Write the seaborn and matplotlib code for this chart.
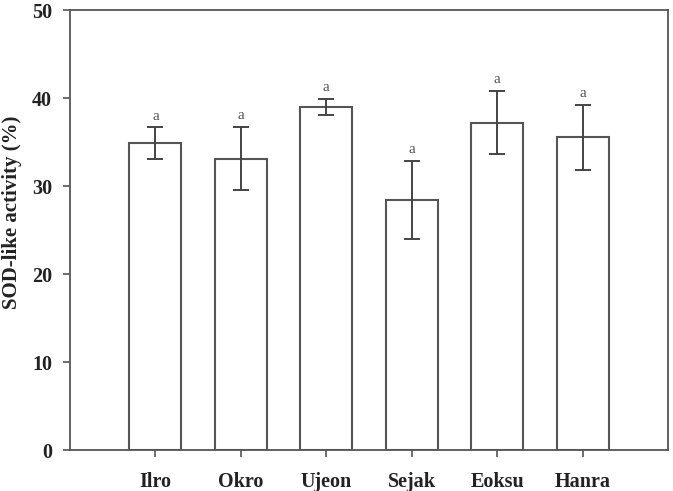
import matplotlib
matplotlib.use("Agg")
import matplotlib.pyplot as plt
import seaborn as sns
import numpy as np

categories = ["Ilro", "Okro", "Ujeon", "Sejak", "Eoksu", "Hanra"]
means = [34.85, 33.1, 38.98, 28.4, 37.2, 35.55]
errors = [1.8, 3.6, 0.9, 4.45, 3.6, 3.7]
letters = ["a", "a", "a", "a", "a", "a"]

sns.set_style("ticks")
plt.rcParams['font.family'] = ['Liberation Serif', 'DejaVu Serif']

fig = plt.figure(figsize=(6.73, 4.91), dpi=100)
ax = fig.add_axes([0.104, 0.0835, 0.8886, 0.8961])

line_c = "#555555"
sns.barplot(x=categories, y=means, ax=ax, color="white", edgecolor=line_c,
            linewidth=1.5, width=0.61, errorbar=None)
xs = np.arange(len(categories))
ax.errorbar(xs, means, yerr=errors, fmt="none", ecolor="#444444",
            elinewidth=1.4, capsize=6, capthick=1.4)
for x, m, e, l in zip(xs, means, errors, letters):
    ax.text(x, m + e + 0.55, l, ha="center", va="bottom", fontsize=11, color="#555555")

ax.set_xlim(-1, 6)
ax.set_ylim(0, 50)
ax.set_yticks([0, 10, 20, 30, 40, 50])
for s in ax.spines.values():
    s.set_visible(True)
    s.set_color(line_c)
    s.set_linewidth(1.3)
ax.tick_params(axis="both", direction="out", color=line_c, width=1.2, length=5,
               labelsize=14.5, labelcolor="#222222")
ax.tick_params(axis="x", pad=10.5)
ax.tick_params(axis="y", pad=8)
for lab in ax.get_xticklabels() + ax.get_yticklabels():
    lab.set_fontweight("bold")
ax.set_xlabel("")
ax.set_ylabel("SOD-like activity (%)", fontsize=15, fontweight="bold",
              color="#222222")
ax.yaxis.set_label_coords(-0.08, 0.54)

fig.savefig("out.png", dpi=100)
